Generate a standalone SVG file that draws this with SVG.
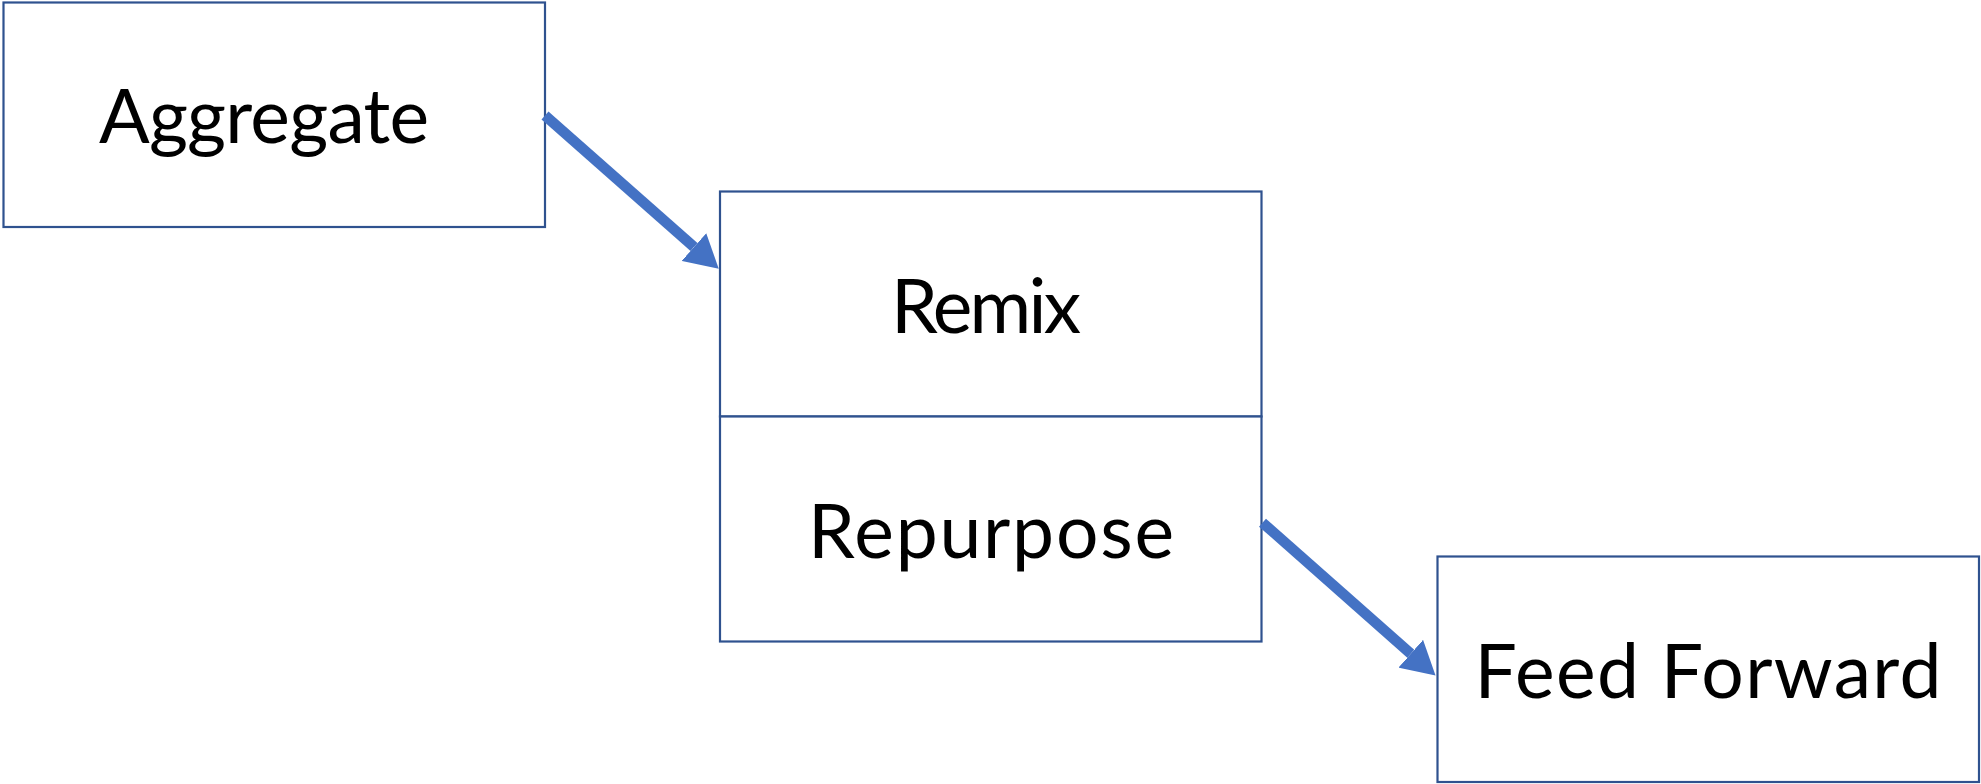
<svg xmlns="http://www.w3.org/2000/svg" width="1981" height="784" viewBox="0 0 1981 784">
  <style>
    .box { fill: #FFFFFF; stroke: #2F528F; stroke-width: 2.2; }
    .label { font-family: "Lato", "Open Sans", "Liberation Sans", sans-serif; font-size: 75px; fill: #000000; text-anchor: middle; }
    .conn { stroke: #4472C4; stroke-width: 10.5; fill: none; stroke-linecap: butt; }
  </style>
  <defs>
    <marker id="head" markerUnits="userSpaceOnUse" viewBox="0 0 33 37" refX="0" refY="18.5" markerWidth="33" markerHeight="37" orient="auto">
      <path d="M0,0 L33,18.5 L0,37 Z" fill="#4472C4"/>
    </marker>
  </defs>
  <rect width="1981" height="784" fill="#FFFFFF"/>
  <g id="node-aggregate">
    <rect class="box" x="3.5" y="2.5" width="541.5" height="224.5"/>
    <text class="label" x="264" y="143.3" textLength="330" lengthAdjust="spacing">Aggregate</text>
  </g>
  <g id="node-remix">
    <rect class="box" x="720" y="191.5" width="541.5" height="225"/>
    <text class="label" x="986" y="333.3" textLength="190" lengthAdjust="spacing">Remix</text>
  </g>
  <g id="node-repurpose">
    <rect class="box" x="720" y="416.5" width="541.5" height="225"/>
    <text class="label" x="991" y="558.3" textLength="366" lengthAdjust="spacing">Repurpose</text>
  </g>
  <g id="node-feed-forward">
    <rect class="box" x="1437.5" y="556.5" width="541.5" height="225.5"/>
    <text class="label" x="1708" y="698.3" textLength="467" lengthAdjust="spacing">Feed Forward</text>
  </g>
  <g id="connectors">
    <path class="conn" d="M545,115.5 L694,247" marker-end="url(#head)"/>
    <path class="conn" d="M1262.5,522.7 L1410.8,653.7" marker-end="url(#head)"/>
  </g>
</svg>
